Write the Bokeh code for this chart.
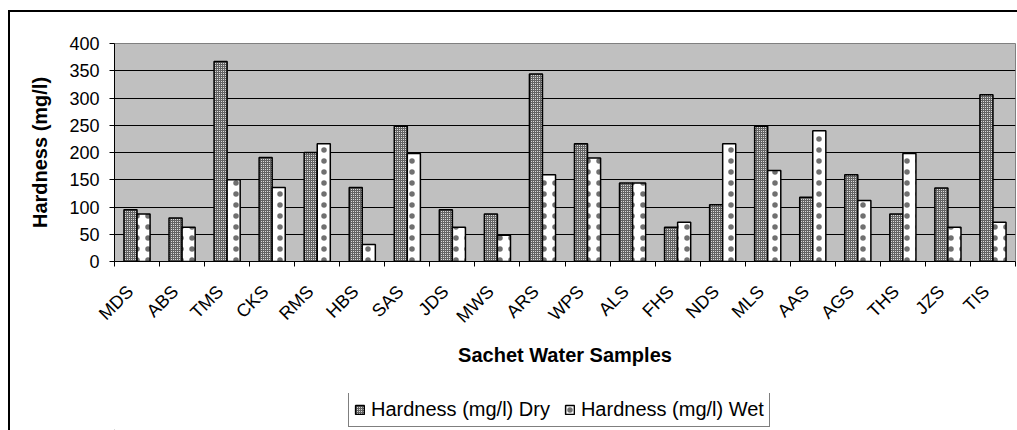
import math
from bokeh.plotting import figure
from bokeh.layouts import column
from bokeh.models import Range1d, FixedTicker, Legend, LegendItem, ColumnDataSource
from bokeh.embed import file_html
from bokeh.resources import INLINE

# ---- data ----
samples = ["MDS", "ABS", "TMS", "CKS", "RMS", "HBS", "SAS", "JDS", "MWS", "ARS",
           "WPS", "ALS", "FHS", "NDS", "MLS", "AAS", "AGS", "THS", "JZS", "TIS"]
hardness_dry = [95, 80, 367, 191, 200, 136, 248, 95, 87, 344,
                216, 144, 63, 104, 248, 118, 159, 87, 135, 306]
hardness_wet = [87, 63, 150, 136, 216, 31, 198, 63, 48, 159,
                190, 144, 72, 216, 167, 240, 112, 198, 63, 72]
y_ticks = [0, 50, 100, 150, 200, 250, 300, 350, 400]
series_names = ["Hardness (mg/l) Dry", "Hardness (mg/l) Wet"]
x_title = "Sachet Water Samples"
y_title = "Hardness (mg/l)"

FONT = "Liberation Sans"
n = len(samples)
centers = [i + 0.5 for i in range(n)]
label_pos = [c - 0.15 for c in centers]
bar_w = 0.29
off = 0.145

DRY_STYLE = dict(fill_color="#646464", line_color="black", line_width=1.5,
                 hatch_pattern="dot", hatch_color="white", hatch_scale=2,
                 hatch_weight=1)
WET_STYLE = dict(fill_color="white", line_color="black", line_width=1.5,
                 hatch_pattern="dot", hatch_color="#707070", hatch_scale=11,
                 hatch_weight=2)

src = ColumnDataSource(dict(
    dry_x=[c - off for c in centers],
    wet_x=[c + off for c in centers],
    dry=hardness_dry, wet=hardness_wet, name=samples))

# ---------------- main chart ----------------
p = figure(width=1007, height=381, x_range=Range1d(0, n), y_range=Range1d(0, 400),
           output_backend="svg", toolbar_location=None,
           min_border_left=104, min_border_right=2, min_border_top=31,
           min_border_bottom=132)

p.background_fill_color = "#c0c0c0"
p.border_fill_color = "white"
p.outline_line_color = "#808080"
p.outline_line_width = 1
p.xgrid.visible = False
p.ygrid.ticker = FixedTicker(ticks=y_ticks[1:-1])
p.ygrid.grid_line_color = "black"
p.ygrid.grid_line_width = 1

r_dry = p.vbar(x="dry_x", top="dry", bottom=0, width=bar_w, source=src, **DRY_STYLE)
r_wet = p.vbar(x="wet_x", top="wet", bottom=0, width=bar_w, source=src, **WET_STYLE)

# y axis
ya = p.yaxis[0]
ya.ticker = FixedTicker(ticks=y_ticks)
ya.major_tick_out = 5
ya.major_tick_in = 0
ya.minor_tick_line_color = None
ya.axis_line_color = "black"
ya.major_tick_line_color = "black"
ya.major_label_text_font = FONT
ya.major_label_text_font_size = "18px"
ya.major_label_text_color = "black"
ya.major_label_standoff = 10
ya.axis_label = y_title
ya.axis_label_text_font = FONT
ya.axis_label_text_font_size = "20px"
ya.axis_label_text_font_style = "bold"
ya.axis_label_text_color = "black"
ya.axis_label_standoff = 15

# x axis: labels under each category, ticks at category boundaries
xa = p.xaxis[0]
xa.ticker = FixedTicker(ticks=label_pos, minor_ticks=list(range(n + 1)))
xa.major_label_overrides = {pos: s for pos, s in zip(label_pos, samples)}
xa.major_tick_out = 0
xa.major_tick_in = 0
xa.major_tick_line_color = None
xa.minor_tick_out = 5
xa.minor_tick_in = 0
xa.minor_tick_line_color = "black"
xa.axis_line_color = "black"
xa.major_label_orientation = math.pi / 4
xa.major_label_text_font = FONT
xa.major_label_text_font_size = "18px"
xa.major_label_text_color = "black"
xa.major_label_standoff = 22
xa.axis_label = x_title
xa.axis_label_text_font = FONT
xa.axis_label_text_font_size = "20px"
xa.axis_label_text_font_style = "bold"
xa.axis_label_text_color = "black"
xa.axis_label_standoff = 7

# ---------------- legend strip ----------------
pl = figure(width=1007, height=37, x_range=Range1d(0, 1), y_range=Range1d(0, 1),
            output_backend="svg", toolbar_location=None,
            x_axis_location=None, y_axis_location=None,
            min_border_left=104, min_border_right=2, min_border_top=0,
            min_border_bottom=0)
pl.outline_line_color = None
pl.background_fill_color = "white"
pl.border_fill_color = "white"
pl.grid.visible = False
# legend-only swatches, placed entirely outside the visible ranges
l_dry = pl.vbar(x=[-10], top=[-10], bottom=[-11], width=0.1, **DRY_STYLE)
l_wet = pl.vbar(x=[-10], top=[-10], bottom=[-11], width=0.1, **WET_STYLE)

legend = Legend(items=[LegendItem(label=series_names[0], renderers=[l_dry]),
                       LegendItem(label=series_names[1], renderers=[l_wet])],
                orientation="horizontal", location=(234, 3),
                border_line_color="black", border_line_width=1,
                background_fill_color="white", background_fill_alpha=1,
                label_text_font=FONT, label_text_font_size="20px",
                label_text_color="black",
                glyph_width=11, glyph_height=11, label_standoff=6,
                spacing=14, padding=5, margin=0)
pl.add_layout(legend, "center")

# outer chart border (only its left and top edges fall inside the picture)
layout = column(p, pl, spacing=0,
                styles={"margin-left": "8px", "margin-top": "10px",
                        "border-left": "2px solid black",
                        "border-top": "2px solid black"})
open("out.html", "w").write(file_html(layout, INLINE))
